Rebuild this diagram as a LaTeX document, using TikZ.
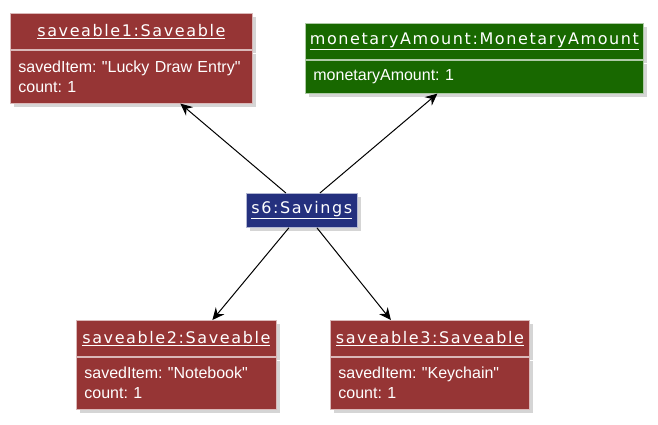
\documentclass[tikz,border=0pt]{standalone}
\usepackage{fontspec}
\setmainfont{Liberation Sans}[Ligatures=TeXOff]
\newfontfamily\titlefont[LetterSpace=10]{DejaVu Sans}
\usepackage{tikz}
\usetikzlibrary{arrows.meta}
\usetikzlibrary{shadows}

\definecolor{objred}{HTML}{963535}
\definecolor{objgreen}{HTML}{186800}
\definecolor{objblue}{HTML}{24307E}

\tikzset{
  objshadow/.style={drop shadow={shadow xshift=4pt, shadow yshift=-4pt, opacity=0.3, fill=black!55}},
  objtitle/.style={fill=#1, draw=#1!35!white, line width=0.8pt, text=white,
    inner sep=0pt, anchor=north west, objshadow,
    font=\titlefont\fontsize{16}{19}\selectfont},
  objbody/.style={fill=#1, draw=#1!35!white, line width=0.8pt, text=white,
    inner xsep=8pt, inner ysep=0pt, anchor=north west, align=left, objshadow,
    font=\frenchspacing\fontsize{16}{20}\selectfont},
  link/.style={-{Stealth[length=12pt,width=11pt,inset=4pt]}, line width=1pt}
}

\begin{document}
\begin{tikzpicture}[x=1pt,y=-1pt]
  \useasboundingbox (0,0) rectangle (658,424);

  % saveable1
  \node[objtitle=objred, minimum width=242pt, minimum height=36pt] (s1title) at (10,13) {\underline{saveable1:Saveable}};
  \node[objbody=objred, text width=226pt, minimum height=53pt] (s1body) at (s1title.south west)
    {savedItem: "Lucky Draw Entry"\\count: 1};

  % monetaryAmount
  \node[objtitle=objgreen, minimum width=338pt, minimum height=36pt] (mtitle) at (305,23) {\underline{monetaryAmount:MonetaryAmount}};
  \node[objbody=objgreen, text width=322pt, minimum height=33pt] (mbody) at (mtitle.south west)
    {monetaryAmount: 1};

  % s6
  \node[objtitle=objblue, minimum width=111pt, minimum height=34pt] (s6) at (246,193) {\underline{s6:Savings}};

  % saveable2
  \node[objtitle=objred, minimum width=200pt, minimum height=36pt] (s2title) at (76,320) {\underline{saveable2:Saveable}};
  \node[objbody=objred, text width=184pt, minimum height=52pt] (s2body) at (s2title.south west)
    {savedItem: "Notebook"\\count: 1};

  % saveable3
  \node[objtitle=objred, minimum width=199pt, minimum height=36pt] (s3title) at (330,320) {\underline{saveable3:Saveable}};
  \node[objbody=objred, text width=183pt, minimum height=52pt] (s3body) at (s3title.south west)
    {savedItem: "Keychain"\\count: 1};

  \draw[link] ([xshift=-16pt]s6.north) -- ([xshift=49pt]s1body.south);
  \draw[link] ([xshift=18pt]s6.north) -- ([xshift=-37pt]mbody.south);
  \draw[link] ([xshift=-13pt]s6.south) -- ([xshift=36pt]s2title.north);
  \draw[link] ([xshift=15pt]s6.south) -- ([xshift=-39pt]s3title.north);
\end{tikzpicture}
\end{document}
